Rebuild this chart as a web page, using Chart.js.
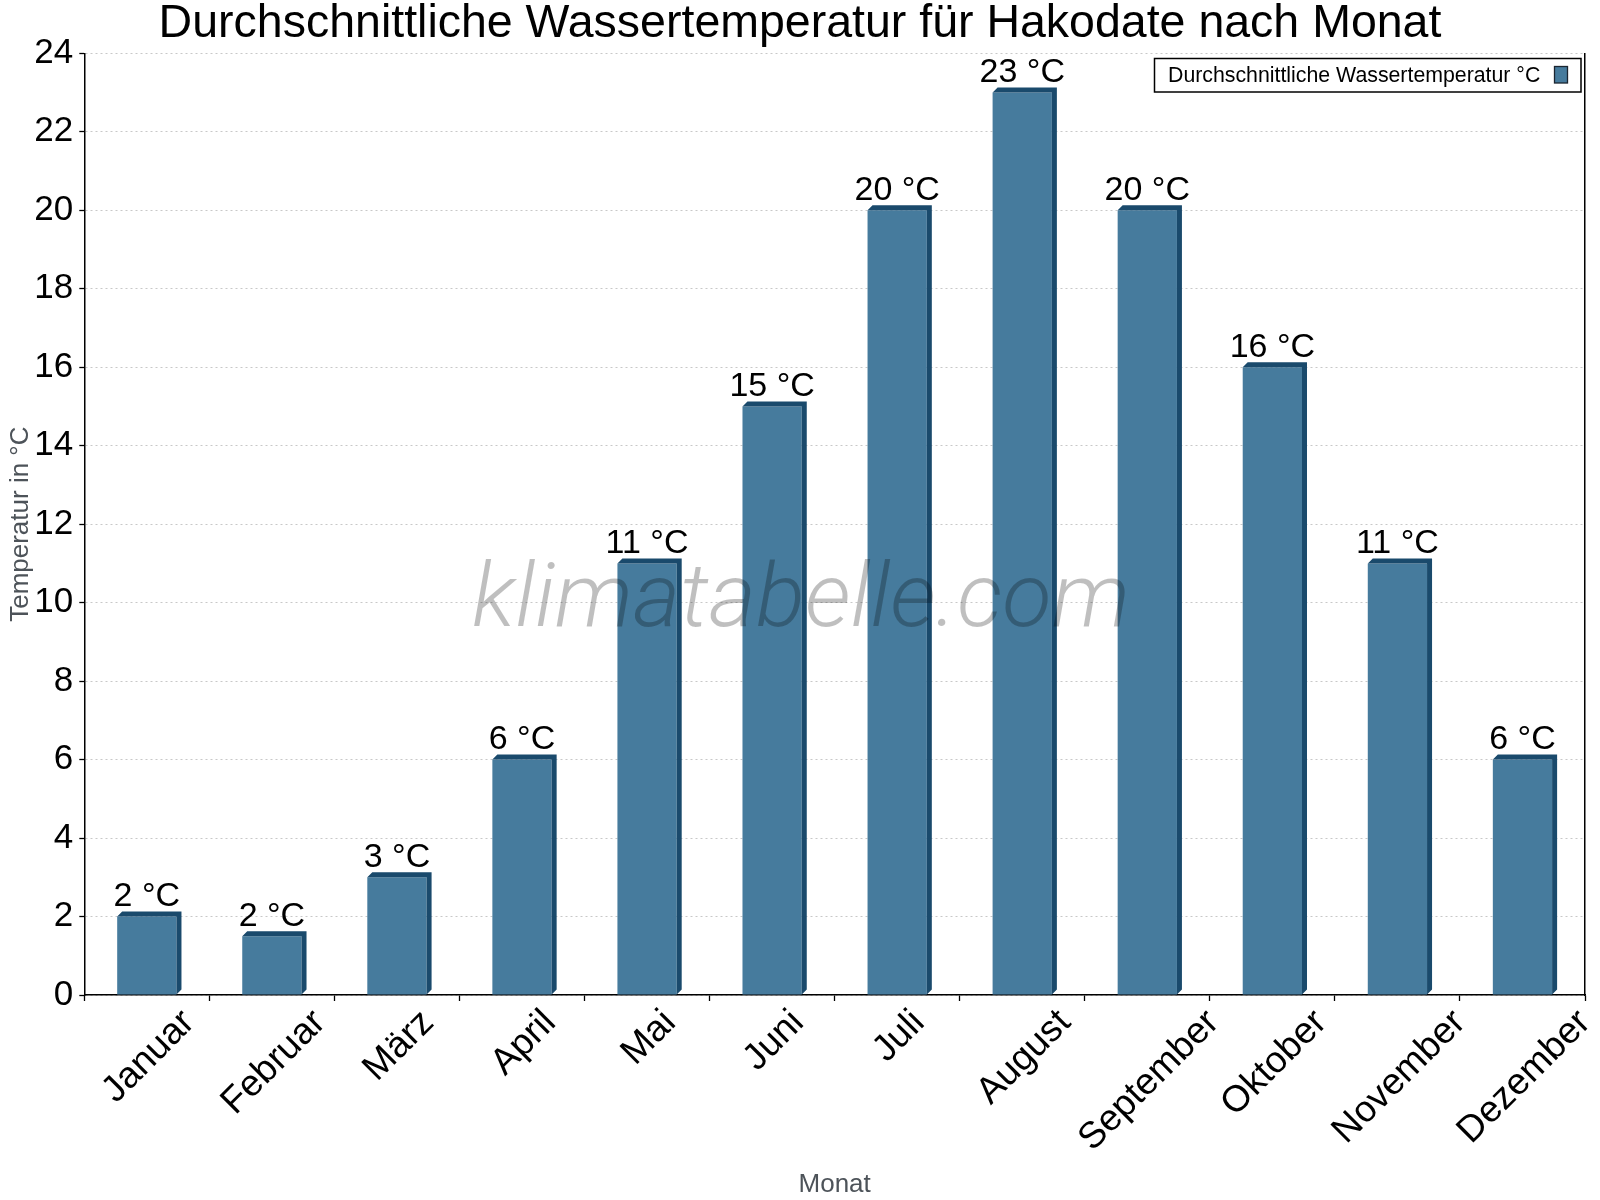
<!DOCTYPE html>
<html>
<head>
<meta charset="utf-8">
<script src="https://cdn.jsdelivr.net/npm/chart.js@4/dist/chart.umd.min.js"></script>
<style>
html,body{margin:0;padding:0;background:#fff;}
#wrap{width:1600px;height:1200px;}
</style>
</head>
<body>
<div id="wrap"><canvas id="c" width="1600" height="1200"></canvas></div>
<script>
const months = ['Januar','Februar','März','April','Mai','Juni','Juli','August','September','Oktober','November','Dezember'];
const waterTemps = [2, 1.5, 3, 6, 11, 15, 20, 23, 20, 16, 11, 6];
const seriesLabel = 'Durchschnittliche Wassertemperatur °C';
const chartTitle = 'Durchschnittliche Wassertemperatur für Hakodate nach Monat';
const yAxisTitle = 'Temperatur in °C';
const xAxisTitle = 'Monat';
const watermark = 'klimatabelle.com';

const FRONT = '#467b9d';
const DARK = '#1a4a6c';
const D = 5;
const FONT = '"Liberation Sans", Arial, sans-serif';

const bar3d = {
  id: 'bar3d',
  afterDatasetsDraw(chart) {
    const ctx = chart.ctx;
    const meta = chart.getDatasetMeta(0);
    ctx.save();
    ctx.fillStyle = DARK;
    meta.data.forEach(el => {
      const {x, y, base, width} = el.getProps(['x','y','base','width'], true);
      const l = x - width/2, r = x + width/2;
      ctx.beginPath();
      ctx.moveTo(l, y);
      ctx.lineTo(l + D, y - D);
      ctx.lineTo(r + D, y - D);
      ctx.lineTo(r + D, base - D);
      ctx.lineTo(r, base);
      ctx.lineTo(r, y);
      ctx.closePath();
      ctx.fill();
    });
    ctx.fillStyle = '#000';
    ctx.font = '34px ' + FONT;
    ctx.textAlign = 'center';
    ctx.textBaseline = 'alphabetic';
    meta.data.forEach((el, i) => {
      ctx.fillText(Math.round(waterTemps[i]) + ' °C', el.x, el.y - 10.5);
    });
    ctx.restore();
  },
  afterDraw(chart) {
    const ctx = chart.ctx;
    const xs = chart.scales.x;
    const area = chart.chartArea;
    ctx.save();
    // rotated x labels, bbox centered on the category, top aligned
    ctx.font = '37px ' + FONT;
    ctx.fillStyle = '#000';
    ctx.textAlign = 'center';
    ctx.textBaseline = 'middle';
    const top = area.bottom + 7;
    months.forEach((m, i) => {
      const w = ctx.measureText(m).width;
      const h = 42;
      const cx = xs.getPixelForValue(i) + 2;
      const cy = top + (w + h) * Math.SQRT1_2 / 2;
      ctx.save();
      ctx.translate(cx, cy);
      ctx.rotate(-Math.PI / 4);
      ctx.fillText(m, 0, 0);
      ctx.restore();
    });
    // watermark
    ctx.save();
    ctx.font = 'italic 300 88px Roboto, sans-serif';
    ctx.fillStyle = 'rgba(0,0,0,0.25)';
    ctx.textAlign = 'center';
    ctx.textBaseline = 'alphabetic';
    const ww = ctx.measureText(watermark).width;
    const sx = 658 / ww;
    ctx.translate(801, 626);
    ctx.scale(sx, 1);
    ctx.fillText(watermark, 0, 0);
    ctx.restore();
    // legend
    ctx.fillStyle = '#fff';
    ctx.fillRect(1154.5, 58.5, 426.5, 33.5);
    ctx.strokeStyle = '#000';
    ctx.lineWidth = 1.5;
    ctx.strokeRect(1154.5, 58.5, 426.5, 33.5);
    ctx.fillStyle = '#000';
    ctx.font = '21.3px ' + FONT;
    ctx.textAlign = 'left';
    ctx.textBaseline = 'alphabetic';
    ctx.fillText(seriesLabel, 1168, 82.3);
    ctx.fillStyle = FRONT;
    ctx.fillRect(1554.5, 66.5, 13, 16.5);
    ctx.strokeStyle = '#1b2530';
    ctx.lineWidth = 1.3;
    ctx.strokeRect(1554.5, 66.5, 13, 16.5);
    ctx.restore();
  }
};

new Chart(document.getElementById('c'), {
  type: 'bar',
  data: {
    labels: months,
    datasets: [{
      label: seriesLabel,
      data: waterTemps,
      backgroundColor: FRONT,
      borderWidth: 0,
      categoryPercentage: 1,
      barPercentage: 0.474
    }]
  },
  plugins: [bar3d],
  options: {
    responsive: false,
    animation: false,
    devicePixelRatio: 1,
    layout: { padding: { left: 0, right: 0, top: 0, bottom: 0 } },
    plugins: {
      legend: { display: false },
      tooltip: { enabled: false },
      title: {
        display: true,
        text: chartTitle,
        color: '#000',
        font: { family: FONT, size: 46.5, weight: 'normal', lineHeight: '48px' },
        padding: { top: 0, bottom: 5.3 }
      }
    },
    scales: {
      x: {
        offset: true,
        ticks: { display: false },
        grid: { display: true, drawOnChartArea: false, offset: true, tickLength: 6, tickColor: '#000', tickWidth: 1.3 },
        border: { display: true, color: '#000', width: 1.5 },
        title: {
          display: true, text: xAxisTitle, color: '#4d5359',
          font: { family: FONT, size: 26 }, padding: { top: 0, bottom: 0 }
        },
        afterFit(s) { s.height = 205; }
      },
      y: {
        min: 0, max: 24,
        ticks: { stepSize: 2, color: '#000', font: { family: FONT, size: 35 }, padding: 6 },
        grid: {
          color: '#c8c8c8', lineWidth: 1,
          tickColor: '#000', tickLength: 5, tickBorderDash: [], tickWidth: 1.3
        },
        border: { display: true, color: '#000', width: 1.5, dash: [2, 3] },
        title: {
          display: true, text: yAxisTitle, color: '#4d5359',
          font: { family: FONT, size: 26 }, padding: { top: 5.5, bottom: 0 }
        },
        afterFit(s) { s.width = 84.3; }
      },
      y2: {
        position: 'right',
        display: true,
        ticks: { display: false },
        grid: { display: false },
        border: { display: true, color: '#000', width: 1.5 },
        afterFit(s) { s.width = 15; }
      }
    }
  }
});
</script>
</body>
</html>
